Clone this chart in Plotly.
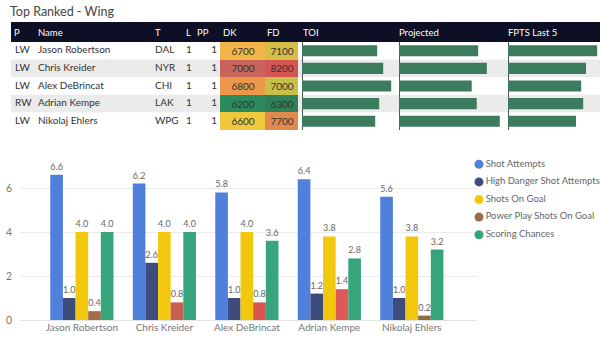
import plotly.graph_objects as go

# ---------------- data ----------------
players = ["Jason Robertson", "Chris Kreider", "Alex DeBrincat", "Adrian Kempe", "Nikolaj Ehlers"]
positions = ["LW", "LW", "LW", "RW", "LW"]
teams = ["DAL", "NYR", "CHI", "LAK", "WPG"]
line_no = [1, 1, 1, 1, 1]
pp_unit = [1, 1, 1, 1, 1]
dk_salary = [6700, 7000, 6800, 6200, 6600]
fd_salary = [7100, 8200, 7000, 6300, 7700]
toi = [18.8, 20.3, 22.3, 19.3, 18.3]
projected = [11.0, 12.2, 10.1, 10.8, 14.0]
fpts_last5 = [22.3, 19.5, 18.3, 18.8, 17.0]

shot_attempts = [6.6, 6.2, 5.8, 6.4, 5.6]
hd_shot_attempts = [1.0, 2.6, 1.0, 1.2, 1.0]
shots_on_goal = [4.0, 4.0, 4.0, 3.8, 3.8]
pp_shots_on_goal = [0.4, 0.8, 0.8, 1.4, 0.2]
scoring_chances = [4.0, 4.0, 3.6, 2.8, 3.2]

series_names = ["Shot Attempts", "High Danger Shot Attempts", "Shots On Goal",
                "Power Play Shots On Goal", "Scoring Chances"]
header_left = ["P", "Name", "T", "L", "PP", "DK", "FD"]
header_right = ["TOI", "Projected", "FPTS Last 5"]
title_text = "Top Ranked - Wing"
y_ticks = [0, 2, 4, 6]

# ---------------- styles / layout helpers ----------------
W, H = 600, 356
FONT = "Segoe UI, Lato, sans-serif"
def fx(p):
    return p / W
def fy(p):
    return 1 - p / H

series_colors = ["#4f80dc", "#3d4b7d", "#f2c80f", "#9c6b4c", "#36a57c"]
pp_point_colors = ["#a26b4a", "#c9604f", "#d8544d", "#df5a55", "#8f6c40"]
stripe_colors = ["#ffffff", "#ebebeb", "#ffffff", "#ebebeb", "#ffffff"]
databar_color = "#3c7b5d"
header_bg = "#0d0f24"

HEAD_TOP, HEAD_BOT = 22, 42
ROWS_TOP, ROWS_BOT = 42, 130

fig = go.Figure()

# ----- row stripes (full table width) -----
fig.add_trace(go.Bar(
    x=[1] * len(players), y=players, orientation="h", width=1,
    marker=dict(color=stripe_colors, line=dict(width=0)),
    xaxis="x2", yaxis="y2", showlegend=False, hoverinfo="skip"))

# ----- data bars -----
for vals, ax in [(toi, "x3"), (projected, "x4"), (fpts_last5, "x5")]:
    fig.add_trace(go.Bar(
        x=vals, y=players, orientation="h", width=0.63,
        marker=dict(color=databar_color, line=dict(width=0)),
        xaxis=ax, yaxis="y2", showlegend=False))

# ----- text columns -----
text_cols = [
    (positions, 15, "middle right"),
    (players, 38, "middle right"),
    (teams, 155, "middle right"),
    ([str(v) for v in line_no], 186, "middle right"),
    ([str(v) for v in pp_unit], 217, "middle left"),
]
for vals, xpos, tp in text_cols:
    fig.add_trace(go.Scatter(
        x=[xpos] * len(vals), y=players, mode="text", text=vals,
        textposition=tp, textfont=dict(family=FONT, size=10, color="#333333"),
        xaxis="x6", yaxis="y2", showlegend=False, hoverinfo="skip", cliponaxis=False))

# ----- salary heatmap cells -----
dk_scale = [[0, "#2b8a5e"], [0.5, "#eec93c"], [0.625, "#f2b548"], [0.75, "#ec974a"], [1, "#c9645a"]]
fd_scale = [[0, "#2f7f5b"], [0.368, "#c9c04a"], [0.421, "#d6bd45"], [0.737, "#e08b4c"], [1, "#d45552"]]
fig.add_trace(go.Heatmap(
    x=["DK"], y=players, z=[[v] for v in dk_salary], zmin=min(dk_salary), zmax=max(dk_salary),
    colorscale=dk_scale, showscale=False, texttemplate="%{z}",
    textfont=dict(family=FONT, size=10, color="#333333"), xaxis="x7", yaxis="y2"))
fig.add_trace(go.Heatmap(
    x=["FD"], y=players, z=[[v] for v in fd_salary], zmin=min(fd_salary), zmax=max(fd_salary),
    colorscale=fd_scale, showscale=False, texttemplate="%{z}",
    textfont=dict(family=FONT, size=10, color="#333333"), xaxis="x8", yaxis="y2"))

# ----- main grouped bar chart -----
all_series = [shot_attempts, hd_shot_attempts, shots_on_goal, pp_shots_on_goal, scoring_chances]
for i, (name, vals) in enumerate(zip(series_names, all_series)):
    col = pp_point_colors if i == 3 else series_colors[i]
    fig.add_trace(go.Bar(
        x=players, y=vals, name=name, marker=dict(color=col, line=dict(width=0)),
        texttemplate="%{y:.1f}", textposition="outside", constraintext="none",
        textfont=dict(family=FONT, size=9, color="#666666"), cliponaxis=False,
        showlegend=False, xaxis="x", yaxis="y"))

# ----- legend (drawn as a small categorical marker plot) -----
fig.add_trace(go.Scatter(
    x=[6] * len(series_names), y=series_names, mode="markers+text", text=series_names,
    textposition="middle right",
    textfont=dict(family=FONT, size=9.5, color="#666666"),
    marker=dict(symbol="circle", size=9, color=series_colors),
    xaxis="x9", yaxis="y9", showlegend=False, hoverinfo="skip", cliponaxis=False))

# ----- header band + labels -----
shapes = [dict(type="rect", xref="paper", yref="paper", x0=fx(11), x1=1,
               y0=fy(HEAD_BOT), y1=fy(HEAD_TOP), fillcolor=header_bg,
               line=dict(width=0), layer="below")]
head_x = [12, 36, 153, 184, 195, 221, 265]
head_x_right = [301, 397, 506]
annotations = []
for label, xp in list(zip(header_left, head_x)) + list(zip(header_right, head_x_right)):
    annotations.append(dict(text=label, xref="paper", yref="paper", x=fx(xp), y=fy((HEAD_TOP + HEAD_BOT) / 2),
                            xanchor="left", yanchor="middle", showarrow=False,
                            font=dict(family=FONT, size=9.5, color="#ffffff")))
annotations.append(dict(text=title_text, xref="paper", yref="paper", x=fx(8), y=fy(12),
                        xanchor="left", yanchor="middle", showarrow=False,
                        font=dict(family=FONT, size=12.5, color="#444444")))

hidden = dict(visible=False, fixedrange=True, automargin=False)
bar_col_axis = dict(anchor="y2", visible=True, showgrid=False, showticklabels=False, ticks="",
                    zeroline=True, zerolinecolor="#555555", zerolinewidth=1,
                    fixedrange=True, automargin=False)
fig.update_layout(
    width=W, height=H, margin=dict(l=0, r=0, t=0, b=0, autoexpand=False),
    paper_bgcolor="white", plot_bgcolor="rgba(0,0,0,0)",
    barmode="group", bargap=0.234, bargroupgap=0,
    shapes=shapes, annotations=annotations, showlegend=False,
    font=dict(family=FONT, color="#666666"),
    xaxis=dict(domain=[fx(20), fx(477)], range=[-0.75, 4.79], showgrid=False, zeroline=False,
               showline=False, ticks="", automargin=False, fixedrange=True,
               tickfont=dict(size=10, color="#777777")),
    yaxis=dict(domain=[fy(320), fy(166)], range=[0, 7], tickvals=y_ticks,
               showgrid=True, gridcolor="#ebebeb", zeroline=True, zerolinecolor="#e3e3e3",
               zerolinewidth=1, ticks="", automargin=False, fixedrange=True,
               tickfont=dict(size=10.5, color="#777777"), ticklabelstandoff=7),
    xaxis2=dict(domain=[fx(11), 1], range=[0, 1], anchor="y2", **hidden),
    yaxis2=dict(domain=[fy(ROWS_BOT), fy(ROWS_TOP)], type="category",
                categoryorder="array", categoryarray=players,
                range=[len(players) - 0.5, -0.5], anchor="x2", **hidden),
    xaxis3=dict(domain=[fx(302), fx(398)], range=[0, 24], **bar_col_axis),
    xaxis4=dict(domain=[fx(399), fx(507)], range=[0, 15], **bar_col_axis),
    xaxis5=dict(domain=[fx(508), 1], range=[0, 23], **bar_col_axis),
    xaxis6=dict(domain=[0, fx(220)], range=[0, 220], anchor="y2", **hidden),
    xaxis7=dict(domain=[fx(220), fx(265)], anchor="y2", **hidden),
    xaxis8=dict(domain=[fx(265), fx(298)], anchor="y2", **hidden),
    xaxis9=dict(domain=[fx(473), 1], range=[0, 127], anchor="y9", **hidden),
    yaxis9=dict(domain=[fy(243.5), fy(155.5)], type="category", categoryorder="array",
                categoryarray=series_names, range=[len(series_names) - 0.5, -0.5],
                anchor="x9", **hidden),
)

# remove the browser's default 8px page margin so the 600x356 figure fills the window
fig.write_html("out.html", config={"displayModeBar": False, "staticPlot": True},
               post_script="document.body.style.margin='0';")
